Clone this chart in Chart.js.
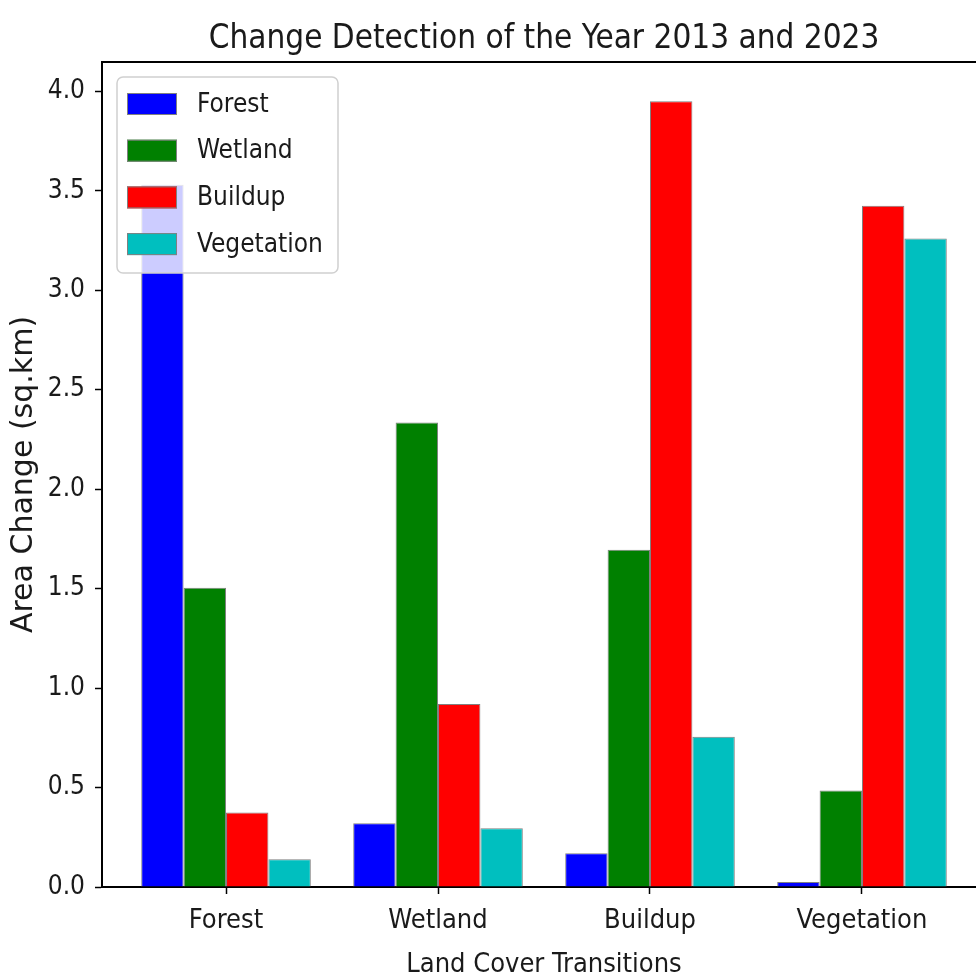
<!DOCTYPE html>
<html>
<head>
<meta charset="utf-8">
<script src="https://cdn.jsdelivr.net/npm/chart.js@4.4.1/dist/chart.umd.min.js"></script>
<style>
  html, body { margin: 0; padding: 0; background: #fff; overflow: hidden; }
  #wrap { position: relative; width: 990px; height: 978px; }
</style>
</head>
<body>
<div id="wrap"><canvas id="chart"></canvas></div>
<script>
// categories and values (sq.km)
const categories = ['Forest', 'Wetland', 'Buildup', 'Vegetation'];
const forestVals = [3.53, 0.32, 0.17, 0.025];
const wetlandVals = [1.505, 2.335, 1.695, 0.485];
const buildupVals = [0.375, 0.92, 3.95, 3.425];
const vegetationVals = [0.14, 0.295, 0.755, 3.26];
const yTicks = [0, 0.5, 1, 1.5, 2, 2.5, 3, 3.5, 4];

const condensed = "'DejaVu Sans Condensed', 'DejaVu Sans', sans-serif";
const textColor = '#1a1a1a';

function toPoints(vals) {
    return vals.map((v, i) => ({ x: i, y: v }));
}

// title centered over the plot area, like matplotlib
const titlePlugin = {
    id: 'axTitle',
    afterDraw(chart) {
        const { ctx, chartArea } = chart;
        ctx.save();
        ctx.font = "33px " + condensed;
        ctx.fillStyle = textColor;
        ctx.textAlign = 'center';
        ctx.textBaseline = 'alphabetic';
        ctx.fillText('Change Detection of the Year 2013 and 2023', (chartArea.left + chartArea.right) / 2, 48);
        // top spine
        ctx.strokeStyle = '#000';
        ctx.lineWidth = 2;
        ctx.beginPath();
        ctx.moveTo(chartArea.left, chartArea.top);
        ctx.lineTo(chartArea.right, chartArea.top);
        ctx.stroke();
        ctx.restore();
    }
};

// legend box in the upper left corner
const legendPlugin = {
    id: 'boxLegend',
    afterDatasetsDraw(chart) {
        const { ctx, chartArea } = chart;
        const x = chartArea.left + 15, y = chartArea.top + 15;
        const w = 221, h = 196;
        ctx.save();
        ctx.beginPath();
        ctx.roundRect(x, y, w, h, 6);
        ctx.fillStyle = 'rgba(255,255,255,0.8)';
        ctx.fill();
        ctx.strokeStyle = '#d0d0d0';
        ctx.lineWidth = 1.5;
        ctx.stroke();
        ctx.font = "26px " + condensed;
        ctx.textBaseline = 'middle';
        chart.data.datasets.forEach((ds, i) => {
            const cy = y + 27 + i * 46.7;
            ctx.fillStyle = ds.backgroundColor;
            ctx.fillRect(x + 10, cy - 11, 50, 22);
            ctx.strokeStyle = 'grey';
            ctx.lineWidth = 1;
            ctx.strokeRect(x + 10.5, cy - 10.5, 49, 21);
            ctx.fillStyle = textColor;
            ctx.fillText(ds.label, x + 80, cy + 1);
        });
        ctx.restore();
    }
};

const ctx = document.getElementById('chart').getContext('2d');
new Chart(ctx, {
    type: 'bar',
    data: {
        datasets: [
            { label: 'Forest', data: toPoints(forestVals), backgroundColor: '#0000ff' },
            { label: 'Wetland', data: toPoints(wetlandVals), backgroundColor: '#008000' },
            { label: 'Buildup', data: toPoints(buildupVals), backgroundColor: '#ff0000' },
            { label: 'Vegetation', data: toPoints(vegetationVals), backgroundColor: '#00bfbf' }
        ]
    },
    options: {
        responsive: true,
        maintainAspectRatio: false,
        animation: false,
        layout: { padding: { top: 62, right: 4, left: 0, bottom: 0 } },
        datasets: {
            bar: {
                categoryPercentage: 0.8,
                barPercentage: 1.0,
                borderColor: 'grey',
                borderWidth: 1
            }
        },
        plugins: {
            legend: { display: false },
            title: { display: false },
            tooltip: { enabled: false }
        },
        scales: {
            x: {
                type: 'linear',
                min: -0.585,
                max: 3.585,
                offset: false,
                afterBuildTicks: s => { s.ticks = categories.map((c, i) => ({ value: i })); },
                afterFit: s => { s.height = 91; },
                grid: { offset: false, drawOnChartArea: false, drawTicks: true, tickLength: 7, tickWidth: 1.5, tickColor: '#000' },
                border: { color: '#000', width: 2 },
                ticks: {
                    callback: v => categories[v],
                    font: { family: condensed, size: 27 },
                    color: textColor,
                    padding: 11,
                    maxRotation: 0,
                    autoSkip: false
                },
                title: {
                    display: true,
                    text: 'Land Cover Transitions',
                    font: { family: condensed, size: 27 },
                    color: textColor,
                    padding: { top: 0, bottom: -3 }
                }
            },
            y: {
                min: 0,
                max: 4.1475,
                afterBuildTicks: s => { s.ticks = yTicks.map(v => ({ value: v })); },
                afterFit: s => { s.width = 102; },
                grid: { drawOnChartArea: false, drawTicks: true, tickLength: 7, tickWidth: 1.5, tickColor: '#000' },
                border: { color: '#000', width: 2 },
                ticks: {
                    callback: v => v.toFixed(1),
                    font: { family: condensed, size: 26 },
                    color: textColor,
                    padding: 10
                },
                title: {
                    display: true,
                    text: 'Area Change (sq.km)',
                    font: { family: "'DejaVu Sans', sans-serif", size: 30 },
                    color: textColor,
                    padding: { top: 6, bottom: 0 }
                }
            }
        }
    },
    plugins: [legendPlugin, titlePlugin]
});
</script>
</body>
</html>
